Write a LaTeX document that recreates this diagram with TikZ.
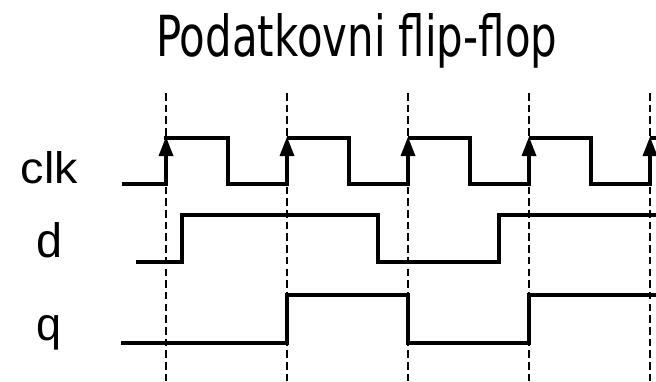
\documentclass[tikz,border=0pt]{standalone}
\usepackage{fontspec}
\setmainfont{Liberation Sans}
\newfontfamily\titlefont{DejaVu Sans}
\usepackage{graphicx}
\begin{document}
\begin{tikzpicture}[x=1pt,y=-1pt,
  signal/.style={line width=4pt,line join=miter,line cap=butt},
  guide/.style={line width=1.5pt,dash pattern=on 7.5pt off 4.2pt},
  tip/.style={fill=black},
  lbl/.style={inner sep=0pt,anchor=base west}]
\useasboundingbox (0,0) rectangle (656,381);
% guide lines
\foreach \x/\n in {166/g1,287/g2,408/g3,529/g4,650/g5}{
  \coordinate (\n t) at (\x,93);
  \coordinate (\n b) at (\x,381);
  \draw[guide] (\n t) -- (\n b);
}
% title
\node[lbl] (title) at (156,56) {\resizebox{401pt}{43pt}{\titlefont Podatkovni flip-flop}};
% labels
\node[lbl] (lclk) at (20.5,183) {\resizebox{57pt}{32pt}{clk}};
\node[lbl] (ld) at (36,257) {\resizebox{26pt}{35pt}{d}};
\node[lbl] (lq) at (36,340) {\resizebox{25pt}{25pt}{q}};
% clk
\draw[signal] (122,184) -- (166,184) -- (166,150) (166,138) -- (228,138) -- (228,184) -- (287,184) -- (287,150)
  (287,138) -- (349,138) -- (349,184) -- (408,184) -- (408,150)
  (408,138) -- (470,138) -- (470,184) -- (529,184) -- (529,150)
  (529,138) -- (591,138) -- (591,184) -- (650,184) -- (650,150)
  (650,138) -- (658,138);
\draw[signal] (164,138) -- (228,138);
\foreach \x in {166,287,408,529,650}{
  \fill[tip] (\x,137) -- (\x+7.5,156) -- (\x-7.5,156) -- cycle;
}
% d
\draw[signal] (136,262) -- (182,262) -- (182,215) -- (378,215) -- (378,262) -- (499,262) -- (499,215) -- (658,215);
% q
\draw[signal] (121,343) -- (287,343) -- (287,295) -- (408,295) -- (408,343) -- (529,343) -- (529,295) -- (658,295);
\end{tikzpicture}
\end{document}
